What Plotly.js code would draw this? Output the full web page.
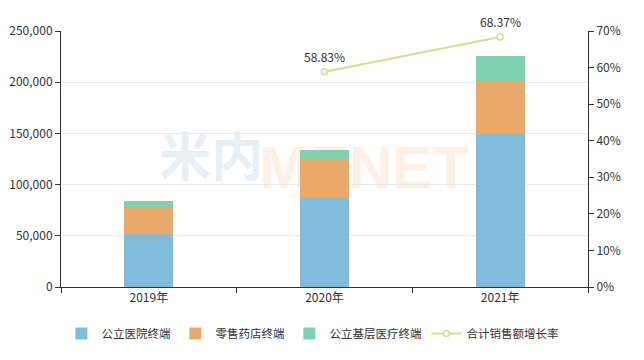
<!DOCTYPE html>
<html>
<head>
<meta charset="utf-8">
<script src="https://cdn.plot.ly/plotly-3.0.1.min.js"></script>
<style>html,body{margin:0;padding:0;background:#fff;}#chart{width:644px;height:360px;}</style>
</head>
<body>
<div id="chart"></div>
<script>
const categories = ['2019年', '2020年', '2021年'];
const publicHospital = [51500, 86600, 149100];
const retailPharmacy = [26300, 38100, 52100];
const primaryCare = [6500, 9100, 24400];
const growthCategories = ['2020年', '2021年'];
const growthRate = [58.83, 68.37];
const growthLabels = ['58.83%', '68.37%'];
const leftTicks = [0, 50000, 100000, 150000, 200000, 250000];
const rightTicks = [0, 10, 20, 30, 40, 50, 60, 70];
const rightTickText = ['0%', '10%', '20%', '30%', '40%', '50%', '60%', '70%'];

const font = 'Noto Sans CJK SC, Microsoft YaHei, sans-serif';
const lineColor = '#dadb8e';
const traces = [
  {type: 'bar', name: '公立医院终端', x: categories, y: publicHospital, marker: {color: '#82bcdb'}},
  {type: 'bar', name: '零售药店终端', x: categories, y: retailPharmacy, marker: {color: '#e9a96b'}},
  {type: 'bar', name: '公立基层医疗终端', x: categories, y: primaryCare, marker: {color: '#80d0b2'}},
  {type: 'scatter', mode: 'lines+markers', name: '合计销售额增长率', x: growthCategories, y: growthRate, yaxis: 'y2', cliponaxis: false,
   line: {color: lineColor, width: 2}, marker: {symbol: 'circle', size: 6, color: '#ffffff', line: {color: lineColor, width: 1.5}}}
];
const labelAnnotations = growthCategories.map((c, i) => ({
  x: c, y: growthRate[i], xref: 'x', yref: 'y2', text: growthLabels[i], showarrow: false,
  yshift: 15, font: {size: 12, color: '#333', family: font}
}));
const layout = {
  width: 644, height: 360,
  margin: {l: 61, r: 56, t: 31, b: 73},
  paper_bgcolor: '#fff', plot_bgcolor: '#fff',
  font: {family: font, size: 12, color: '#333'},
  barmode: 'stack', bargap: 0.72,
  showlegend: true,
  legend: {orientation: 'h', x: 0.477, xanchor: 'center', y: -0.125, yanchor: 'top', itemwidth: 30, font: {size: 11.5, color: '#333'}, traceorder: 'normal'},
  xaxis: {type: 'category', showline: true, linecolor: '#333', linewidth: 1, ticks: 'outside', ticklen: 5, tickcolor: '#333',
    tickson: 'boundaries', showgrid: false, tickfont: {size: 12, color: '#333'}},
  yaxis: {range: [0, 250000], tickvals: leftTicks, tickformat: ',d', showline: true, linecolor: '#333', ticks: 'outside', ticklen: 5, tickcolor: '#333',
    gridcolor: '#e9e9e9', zeroline: false, tickfont: {size: 12, color: '#333'}},
  yaxis2: {range: [0, 70], tickvals: rightTicks, ticktext: rightTickText, overlaying: 'y', side: 'right', showline: true, linecolor: '#333', ticks: 'outside', ticklen: 5, tickcolor: '#333',
    showgrid: false, zeroline: false, tickfont: {size: 12, color: '#333'}},
  shapes: [
    {type: 'rect', layer: 'below', xref: 'paper', yref: 'paper', x0: 0.2, x1: 0.37, y0: 0.39, y1: 0.59,
     line: {width: 0}, fillcolor: 'rgba(0,0,0,0)',
     label: {text: '<b>米内</b>', textposition: 'middle center', font: {size: 52, color: '#e6f0f6', family: font}}},
    {type: 'rect', layer: 'below', xref: 'paper', yref: 'paper', x0: 0.36, x1: 0.79, y0: 0.39, y1: 0.59,
     line: {width: 0}, fillcolor: 'rgba(0,0,0,0)',
     label: {text: '<b>MENET</b>', textposition: 'middle center', font: {size: 60, color: '#fdf1e5', family: 'Liberation Sans, Arial, sans-serif'}}}
  ],
  annotations: labelAnnotations
};
Plotly.newPlot('chart', traces, layout, {displayModeBar: false, staticPlot: true});
</script>
</body>
</html>
